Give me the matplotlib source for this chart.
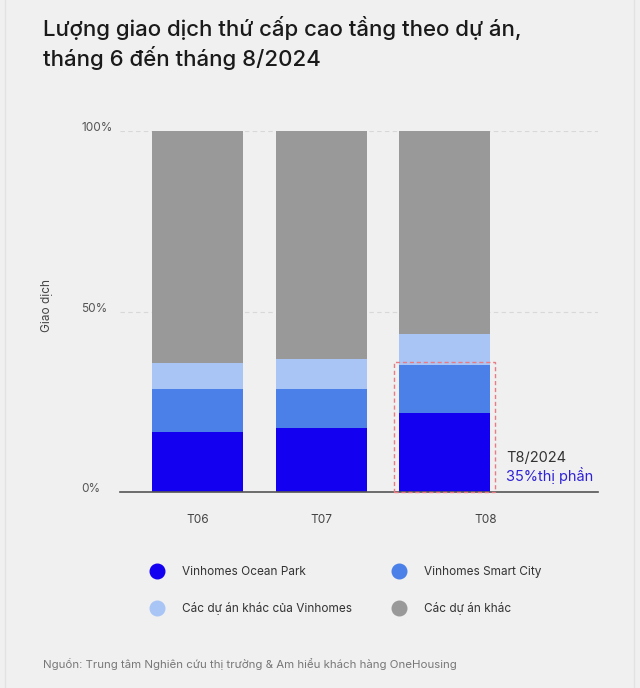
import matplotlib
matplotlib.use("Agg")
import matplotlib.pyplot as plt
import matplotlib.transforms as mtransforms
from matplotlib.patches import Rectangle
from matplotlib.lines import Line2D
import numpy as np

plt.rcParams['font.family'] = ['Inter', 'DejaVu Sans']

months = ["T06", "T07", "T08"]
series_names = ["Vinhomes Ocean Park", "Vinhomes Smart City",
                "Các dự án khác của Vinhomes", "Các dự án khác"]
ocean_park = [16.5, 17.7, 21.8]
smart_city = [12.0, 10.8, 13.4]
other_vinhomes = [7.1, 8.4, 8.6]
other_projects = [64.4, 63.1, 56.2]
yticks = [0, 50, 100]
ytick_labels = ["0%", "50%", "100%"]
title = "Lượng giao dịch thứ cấp cao tầng theo dự án,\ntháng 6 đến tháng 8/2024"
ylabel = "Giao dịch"
source = "Nguồn: Trung tâm Nghiên cứu thị trường & Am hiểu khách hàng OneHousing"
note_line1 = "T8/2024"
note_line2 = "35%thị phần"

colors = ["#1400f0", "#4a80e8", "#a9c5f6", "#999999"]
bg = "#f0f0f0"

fig = plt.figure(figsize=(6.4, 6.88), dpi=100, facecolor=bg)
W, H = 640, 688
ax = fig.add_axes([120 / W, 1 - 492 / H, 478 / W, (492 - 131) / H])
ax.set_facecolor(bg)

x = np.arange(len(months))
width = 0.737
bottom = np.zeros(len(months))
for vals, c in zip([ocean_park, smart_city, other_vinhomes, other_projects], colors):
    ax.bar(x, vals, width, bottom=bottom, color=c, zorder=3)
    bottom += np.array(vals)

ax.set_xlim(-0.628, 3.24)
ax.set_ylim(0, 100)

for s in ax.spines.values():
    s.set_visible(False)
ax.axhline(0, color="#555555", lw=1.2, zorder=4, clip_on=False)
for yv in yticks[1:]:
    ax.axhline(yv, color="#d8d8d8", lw=0.8, ls=(0, (4, 3)), zorder=1)

ax.set_yticks(yticks)
ax.set_yticklabels(ytick_labels, fontsize=8.5, color="#555555", ha="left")
ax.tick_params(axis="y", length=0, pad=28)
up = mtransforms.ScaledTranslation(0, 3 / 100, fig.dpi_scale_trans)
for lab in ax.get_yticklabels():
    lab.set_verticalalignment("center")
    lab.set_transform(lab.get_transform() + up)

ax.set_xticks(x)
ax.set_xticklabels(months, fontsize=8.5, color="#444444")
ax.tick_params(axis="x", length=0, pad=16)
last = ax.get_xticklabels()[-1]
offset = mtransforms.ScaledTranslation(41 / 100, 0, fig.dpi_scale_trans)
last.set_transform(last.get_transform() + offset)

fig.text(47 / W, 1 - 305 / H, ylabel, rotation=90, fontsize=8.5, color="#444444",
         ha="center", va="center")

# highlight rectangle on T08
top_hl = ocean_park[2] + smart_city[2] + 0.8
rect = Rectangle((2 - 0.409, 0), 0.818, top_hl, fill=False, edgecolor="#e87b84",
                 lw=1, ls=(0, (3, 2)), zorder=5, clip_on=False)
ax.add_patch(rect)

fig.text(506 / W, 1 - 458 / H, note_line1, fontsize=10.5, color="#333333", va="center", ha="left")
fig.text(506 / W, 1 - 476 / H, note_line2, fontsize=10.5, color="#2f22d6", va="center", ha="left")

fig.text(43 / W, 1 - 43 / H, title, fontsize=16, weight="medium", color="#1a1a1a",
         va="center", ha="left", linespacing=1.3)

# legend
handles = [Line2D([], [], marker="o", ls="none", markersize=10.5, markerfacecolor=c,
                  markeredgecolor=c) for c in colors]
order = [0, 2, 1, 3]
leg = fig.legend([handles[i] for i in order], [series_names[i] for i in order],
                 ncol=2, loc="upper left", bbox_to_anchor=(151.5 / W, 1 - 566 / H),
                 frameon=False, fontsize=8.5, handletextpad=1.62, columnspacing=3.47,
                 labelspacing=2.05, handlelength=1.0, borderaxespad=0, borderpad=0)
for t in leg.get_texts():
    t.set_color("#333333")

fig.text(43 / W, 1 - 664 / H, source, fontsize=8.25, color="#777777", va="center", ha="left")

# subtle frame edges
fig.add_artist(Line2D([5 / W, 5 / W], [0, 1], color="#e2e2e2", lw=1, transform=fig.transFigure))
fig.add_artist(Line2D([634 / W, 634 / W], [0, 1], color="#e2e2e2", lw=1, transform=fig.transFigure))

fig.savefig("out.png", dpi=100, facecolor=bg)
